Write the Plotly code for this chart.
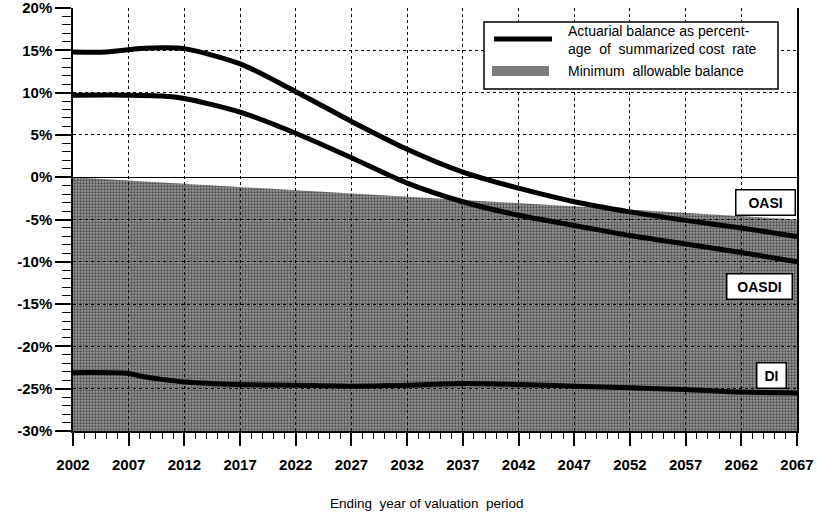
import plotly.graph_objects as go

# Ending year of each valuation period and the actuarial balances (% of summarized cost rate)
oasi_years = [2002, 2005, 2008, 2010, 2012, 2017, 2022, 2027,
              2032, 2037, 2042, 2047, 2052, 2057, 2062, 2067]
oasi_balance = [14.8, 14.8, 15.2, 15.3, 15.2, 13.4, 10.1, 6.6,
                3.3, 0.6, -1.3, -2.9, -4.1, -5.1, -6.0, -7.0]

oasdi_years = [2002, 2007, 2010, 2012, 2017, 2022, 2027,
               2032, 2037, 2042, 2047, 2052, 2057, 2062, 2067]
oasdi_balance = [9.7, 9.7, 9.6, 9.3, 7.7, 5.2, 2.3,
                 -0.7, -2.9, -4.5, -5.7, -6.9, -7.9, -8.9, -10.0]

di_years = [2002, 2007, 2008, 2010, 2012, 2017, 2022, 2027, 2032, 2037,
            2042, 2047, 2052, 2057, 2062, 2067]
di_balance = [-23.1, -23.2, -23.5, -23.9, -24.2, -24.5, -24.6, -24.7, -24.6, -24.4,
              -24.5, -24.7, -24.9, -25.1, -25.4, -25.5]

# Minimum allowable balance test: 0% at the start, -5% at the end of the 75-year period
min_years = [2002, 2067]
min_balance = [0.0, -5.0]
axis_floor = [-30.0, -30.0]

x_ticks = list(range(2002, 2068, 5))
y_ticks = list(range(-30, 21, 5))
y_tick_text = [f"{v}%" for v in y_ticks]

FONT = "Liberation Sans, Arial, sans-serif"

fig = go.Figure()

# shaded region below the minimum allowable balance: flat grey tone ...
fig.add_trace(go.Scatter(x=min_years, y=axis_floor, mode="lines",
                         line=dict(width=0), hoverinfo="skip", showlegend=False))
fig.add_trace(go.Scatter(
    x=min_years, y=min_balance, mode="lines", line=dict(width=0),
    fill="tonexty", fillcolor="rgba(0,0,0,0.4)", hoverinfo="skip", showlegend=False))

# ... plus a dotted screen over the same region
region_x = min_years + min_years[::-1]
region_y = min_balance + axis_floor[::-1]
fig.add_trace(go.Scatter(
    x=region_x, y=region_y, mode="lines", line=dict(width=0),
    fill="toself", fillcolor="rgba(0,0,0,0)",
    fillpattern=dict(shape=".", size=3, solidity=0.45, fgcolor="#000000",
                     bgcolor="rgba(0,0,0,0)", fillmode="overlay"),
    hoverinfo="skip", showlegend=False))

line_style = dict(color="black", width=5, shape="spline", smoothing=0.8)
for xs, ys, name in [(oasi_years, oasi_balance, "OASI"),
                     (oasdi_years, oasdi_balance, "OASDI"),
                     (di_years, di_balance, "DI")]:
    fig.add_trace(go.Scatter(x=xs, y=ys, mode="lines", line=line_style,
                             name=name, showlegend=False))

# boxed series labels near the right edge
for txt, xv, yv, wd in [("OASI", 2064.2, -2.95, 50), ("OASDI", 2063.6, -12.9, 56),
                        ("DI", 2064.7, -23.4, 20)]:
    fig.add_annotation(x=xv, y=yv, xref="x", yref="y", text=txt, showarrow=False,
                       width=wd, align="center",
                       font=dict(family=FONT, size=14, color="black", weight="bold"),
                       bgcolor="white", bordercolor="black", borderwidth=1.5, borderpad=4)

# legend box drawn in pixel-equivalent paper coordinates
L, R, T, B = 73, 797, 8, 431
W, H = 817, 516


def px(xp):
    return (xp - L) / (R - L)


def py(yp):
    return (B - yp) / (B - T)


fig.add_shape(type="rect", xref="paper", yref="paper",
              x0=px(484), x1=px(778), y0=py(89), y1=py(22),
              fillcolor="white", line=dict(color="black", width=1.5), layer="above")
fig.add_shape(type="line", xref="paper", yref="paper",
              x0=px(494), x1=px(552), y0=py(39), y1=py(39),
              line=dict(color="black", width=5), layer="above")
fig.add_shape(type="rect", xref="paper", yref="paper",
              x0=px(492), x1=px(549), y0=py(76), y1=py(66),
              fillcolor="#7c7c7c", line=dict(width=0), layer="above")
fig.add_annotation(xref="paper", yref="paper", x=px(566), y=py(40), xanchor="left",
                   yanchor="middle", align="left", showarrow=False,
                   text="Actuarial balance as percent-<br>age  of  summarized cost  rate",
                   font=dict(family=FONT, size=14, color="black"))
fig.add_annotation(xref="paper", yref="paper", x=px(566), y=py(71), xanchor="left",
                   yanchor="middle", showarrow=False,
                   text="Minimum  allowable balance",
                   font=dict(family=FONT, size=14, color="black"))

# x-axis title
fig.add_annotation(xref="paper", yref="paper", x=px(427), y=py(504), xanchor="center",
                   yanchor="middle", showarrow=False,
                   text="Ending  year of valuation  period",
                   font=dict(family=FONT, size=13.5, color="black"))

fig.update_xaxes(range=[2002, 2067], tickmode="array", tickvals=x_ticks,
                 ticks="outside", ticklen=13, tickwidth=1.5, tickcolor="black",
                 showline=True, linecolor="black", linewidth=1.5,
                 showgrid=True, gridcolor="black", gridwidth=1, griddash="dot",
                 zeroline=False, ticklabelstandoff=6, automargin=False,
                 tickfont=dict(family=FONT, size=15, color="black", weight="bold"),
                 minor=dict(dtick=1, tick0=2002, ticks="outside", ticklen=6,
                            tickwidth=1.2, tickcolor="black", showgrid=False))
fig.update_yaxes(range=[-30, 20], tickmode="array", tickvals=y_ticks, ticktext=y_tick_text,
                 ticks="outside", ticklen=16, tickwidth=1.5, tickcolor="black",
                 showline=True, linecolor="black", linewidth=1.5, mirror=True,
                 showgrid=True, gridcolor="black", gridwidth=1, griddash="dot",
                 zeroline=True, zerolinecolor="black", zerolinewidth=1,
                 ticklabelstandoff=0, ticklabeloverflow="allow", automargin=False,
                 tickfont=dict(family=FONT, size=15, color="black", weight="bold"),
                 minor=dict(dtick=1, tick0=0, ticks="outside", ticklen=9,
                            tickwidth=1.2, tickcolor="black", showgrid=False))

fig.update_layout(width=W, height=H, margin=dict(l=L, r=W - R, t=T, b=H - B),
                  paper_bgcolor="white", plot_bgcolor="white", showlegend=False)

fig.write_html("out.html")
